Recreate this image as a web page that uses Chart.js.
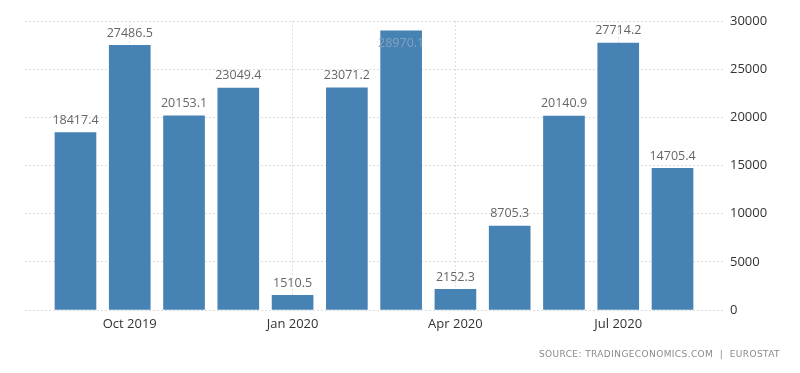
<!DOCTYPE html>
<html>
<head>
<meta charset="utf-8">
<script src="https://cdn.jsdelivr.net/npm/chart.js@4"></script>
<style>
  html, body { margin: 0; padding: 0; background: #fff; }
  #wrap { position: relative; width: 800px; height: 373px; }
  #source {
    position: absolute; right: 20px; top: 349px;
    font: 9px "DejaVu Sans", sans-serif; color: #8a8a8a; letter-spacing: 0.4px;
  }
</style>
</head>
<body>
<div id="wrap">
  <canvas id="chart" width="800" height="373"></canvas>
  <div id="source">SOURCE: TRADINGECONOMICS.COM&nbsp; | &nbsp;EUROSTAT</div>
</div>
<script>
// monthly values
const months = ["Sep 2019", "Oct 2019", "Nov 2019", "Dec 2019", "Jan 2020", "Feb 2020",
                "Mar 2020", "Apr 2020", "May 2020", "Jun 2020", "Jul 2020", "Aug 2020"];
const values = [18417.4, 27486.5, 20153.1, 23049.4, 1510.5, 23071.2,
                28970.1, 2152.3, 8705.3, 20140.9, 27714.2, 14705.4];
const tickMonths = ["Oct 2019", "Jan 2020", "Apr 2020", "Jul 2020"];
const yTicks = [0, 5000, 10000, 15000, 20000, 25000, 30000];

const points = values.map((v, i) => ({ x: i, y: v }));

// value labels above bars (inside the bar when there is no room)
const barLabels = {
    id: "barLabels",
    afterDatasetsDraw(chart) {
        const ctx = chart.ctx;
        const meta = chart.getDatasetMeta(0);
        ctx.save();
        ctx.font = "12.5px 'Open Sans', sans-serif";
        ctx.textAlign = "center";
        meta.data.forEach((bar, i) => {
            const txt = values[i].toFixed(1);
            if (bar.y - 22 < chart.chartArea.top) {
                ctx.fillStyle = "rgba(140,165,192,0.9)";
                ctx.textBaseline = "middle";
                ctx.fillText(txt, bar.x, bar.y + 13);
            } else {
                ctx.fillStyle = "#666";
                ctx.textBaseline = "bottom";
                ctx.fillText(txt, bar.x, bar.y - 6);
            }
        });
        ctx.restore();
    }
};

new Chart(document.getElementById("chart"), {
    type: "bar",
    data: {
        datasets: [{
            data: points,
            backgroundColor: "#4682b4",
            barThickness: 41
        }]
    },
    options: {
        responsive: false,
        animation: false,
        layout: { padding: { left: 25, top: 21, right: 0, bottom: 0 } },
        plugins: { legend: { display: false }, tooltip: { enabled: false } },
        scales: {
            x: {
                type: "linear",
                offset: false,
                bounds: "data",
                min: -0.93,
                max: 11.93,
                afterBuildTicks(scale) {
                    scale.ticks = tickMonths.map(m => ({ value: months.indexOf(m) }));
                },
                afterFit(scale) { scale.height = 63; },
                ticks: {
                    callback: v => months[v],
                    color: "#333",
                    font: { family: "Open Sans", size: 13 },
                    padding: 6,
                    maxRotation: 0
                },
                grid: { color: "#e0e0e0", drawTicks: false, offset: false },
                border: { display: false, dash: [2, 2] }
            },
            y: {
                position: "right",
                min: 0,
                max: 30000,
                afterBuildTicks(scale) {
                    scale.ticks = yTicks.map(v => ({ value: v }));
                },
                afterFit(scale) { scale.width = 77; },
                ticks: {
                    callback: v => String(v),
                    color: "#333",
                    font: { family: "Open Sans", size: 13 },
                    padding: 7
                },
                grid: { color: "#dcdcdc", drawTicks: false },
                border: { display: false, dash: [2, 2] }
            }
        }
    },
    plugins: [barLabels]
});
</script>
</body>
</html>
